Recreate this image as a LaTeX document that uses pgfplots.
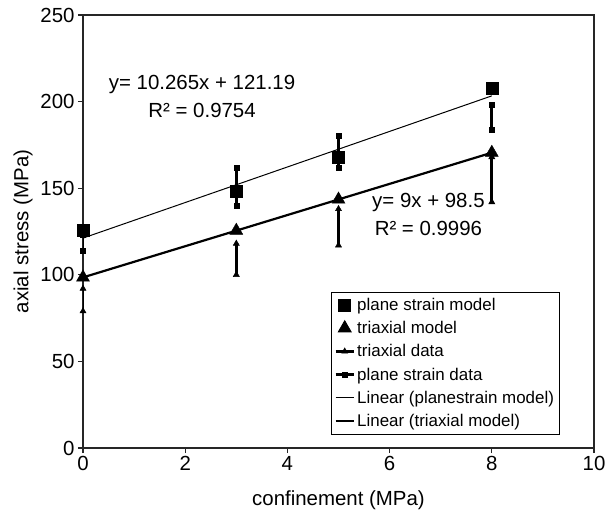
\documentclass[border=0pt]{standalone}
\usepackage{fontspec}
\setmainfont{Liberation Sans}
\usepackage{pgfplots}
\pgfplotsset{compat=1.18}

\begin{document}
\begin{tikzpicture}
\begin{axis}[
  scale only axis,
  width=511bp, height=433bp,
  xmin=0, xmax=10, ymin=0, ymax=250,
  xtick={0,2,4,6,8,10},
  ytick={0,50,100,150,200,250},
  tick align=outside,
  xtick pos=left, ytick pos=left,
  major tick length=5bp,
  axis line style={black!85, line width=1.2bp},
  tick style={black!85, line width=1.2bp},
  /pgf/number format/assume math mode=true,
  tick label style={font=\fontsize{20.5}{24}\selectfont},
  label style={font=\fontsize{20.5}{24}\selectfont},
  xlabel={confinement (MPa)},
  ylabel={axial stress (MPa)},
  xlabel style={at={(axis description cs:0.5,-0.12)}, anchor=center},
  ylabel style={at={(axis description cs:-0.117,0.5)}, anchor=center},
  unbounded coords=jump,
  legend image code/.code={\draw[mark repeat=2,mark phase=2,#1] plot coordinates {(0bp,0bp) (9bp,0bp) (18bp,0bp)};},
  legend style={at={(0.485,0.361)}, anchor=north west, draw=black, line width=0.8bp,
    font=\fontsize{17}{19}\selectfont, row sep=5.5bp, inner xsep=3bp, inner ysep=4bp,
    cells={anchor=west}},
]
% plane strain model
\addplot[only marks, mark=square*, mark size=6bp, black] coordinates {
  (0,126) (3,148) (5,168) (8,208)
};
\addlegendentry{plane strain model}
% triaxial model
\addplot[only marks, mark=triangle*, mark size=7.5bp, black] coordinates {
  (0,98.5) (3,125.5) (5,143.5) (8,170.5)
};
\addlegendentry{triaxial model}
% triaxial data
\addplot[black, line width=3bp, mark=triangle*, mark size=3.5bp, mark options={line width=0.5bp}] coordinates {
  (0,79) (0,92) (0,nan)
  (3,100) (3,118) (3,nan)
  (5,117) (5,138) (5,nan)
  (8,142) (8,168)
};
\addlegendentry{triaxial data}
% plane strain data
\addplot[black, line width=3bp, mark=square*, mark size=2.5bp, mark options={line width=0.5bp}] coordinates {
  (0,114) (0,123) (0,nan)
  (3,140) (3,162) (3,nan)
  (5,162) (5,180) (5,nan)
  (8,184) (8,198)
};
\addlegendentry{plane  strain data}
% linear fits
\addplot[black, line width=1bp] coordinates {(0,121.19) (8,203.31)};
\addlegendentry{Linear (planestrain model)}
\addplot[black, line width=2.2bp] coordinates {(0,98.5) (8,170.5)};
\addlegendentry{Linear (triaxial model)}

\node[font=\fontsize{20.5}{24}\selectfont, align=center, inner sep=0pt] at (axis cs:2.33,202.8)
  {y= 10.265x + 121.19\\[4bp]R² = 0.9754};
\node[font=\fontsize{20.5}{24}\selectfont, align=center, inner sep=0pt] at (axis cs:6.76,134.8)
  {y= 9x + 98.5\\[4bp]R² = 0.9996};
\end{axis}
\pgfresetboundingbox
\path (current axis.south west) ++(-83bp,-70bp) rectangle ++(607bp,518bp);
\end{tikzpicture}
\end{document}
